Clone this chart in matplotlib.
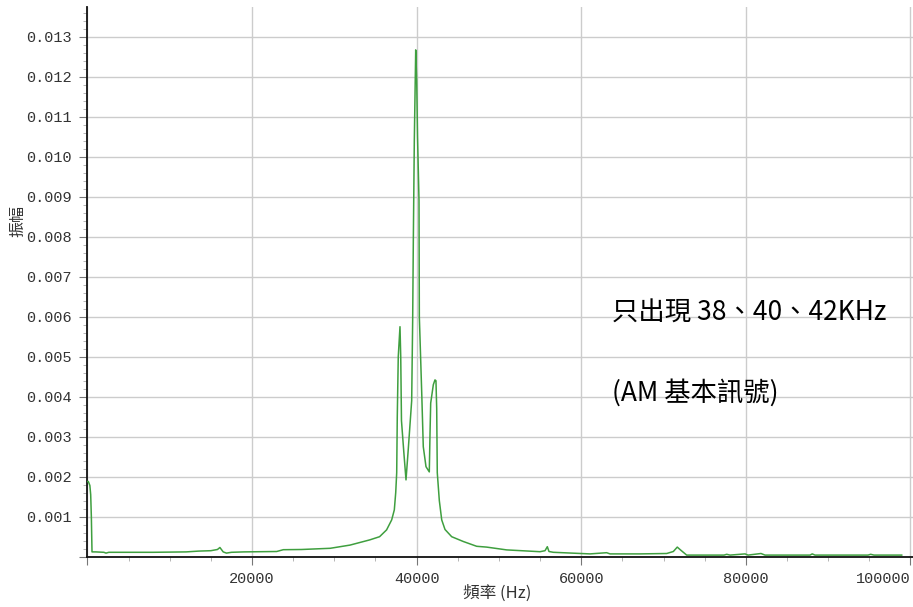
import numpy as np
import matplotlib
matplotlib.use("Agg")
import matplotlib.pyplot as plt
from matplotlib.ticker import MultipleLocator, FixedLocator

# Spectrum samples: frequency (Hz) and amplitude
freq = [0, 110, 300, 400, 480, 560, 1000, 2000, 2260, 2600, 5000, 8000, 12000,
        13500, 15000, 15800, 16100, 16500, 16900, 17500, 19000, 23000, 23800,
        26000, 29500, 31900, 34300, 35500, 36350, 36970, 37290, 37460, 37580,
        37650, 37770, 37980, 38070, 38160, 38450, 38710, 38990, 39400, 39520,
        39600, 39720, 39890, 40010, 40110, 40290, 40330, 40620, 40810, 41140,
        41540, 41630, 41710, 42030, 42230, 42350, 42440, 42510, 42760, 43050,
        43450, 44260, 45670, 47300, 48510, 50940, 54990, 55600, 55880, 56080,
        56610, 61070, 63090, 63500, 67140, 70390, 71190, 71670, 72000, 72810,
        74430, 77350, 77680, 78080, 79900, 80270, 81840, 82330, 87800, 88070,
        88400, 94850, 95170, 95570, 98940]
amp = [0.00188, 0.00188, 0.00178, 0.00155, 0.00100, 0.00012, 0.00012, 0.00011,
       0.00009, 0.00011, 0.00011, 0.00011, 0.00012, 0.00014, 0.00015, 0.00018,
       0.00023, 0.00012, 0.00009, 0.00011, 0.00012, 0.00013, 0.000175, 0.00018,
       0.00021, 0.00029, 0.00042, 0.00050, 0.00067, 0.00092, 0.00117, 0.00160,
       0.00210, 0.00350, 0.00500, 0.00575, 0.00500, 0.00340, 0.00260, 0.00192,
       0.00270, 0.00390, 0.00590, 0.00790, 0.01040, 0.01267, 0.01190, 0.01050,
       0.00890, 0.00600, 0.00410, 0.00275, 0.00225, 0.00212, 0.00310, 0.00384,
       0.00430, 0.00442, 0.00440, 0.00370, 0.00210, 0.00140, 0.00092, 0.00068,
       0.00050, 0.00038, 0.00026, 0.00024, 0.00017, 0.000125, 0.00015, 0.00025,
       0.00013, 0.00011, 0.00007, 0.00010, 0.00007, 0.00007, 0.00008, 0.00013,
       0.00024, 0.00018, 0.00004, 0.00004, 0.00004, 0.00006, 0.00004, 0.00007,
       0.00004, 0.00008, 0.00004, 0.00004, 0.00007, 0.00004, 0.00004, 0.00006,
       0.00004, 0.00004]

x_major = [0, 20000, 40000, 60000, 80000, 100000]
x_labels = ["", "20000", "40000", "60000", "80000", "100000"]
y_major = [i / 1000 for i in range(0, 14)]
y_labels = [""] + ["%.3f" % v for v in y_major[1:]]

note_lines = ["只出現 38、40、42KHz", "(AM 基本訊號)"]
x_title = "頻率 (Hz)"
y_title = "振幅"

W, H = 913, 607
fig = plt.figure(figsize=(W / 100, H / 100), dpi=100)
left, right, top, bottom = 87.4, 913, 7, 556.7
ax = fig.add_axes([left / W, 1 - bottom / H, (right - left) / W, (bottom - top) / H])

ax.plot(freq, amp, color="#3f9f3f", linewidth=1.1, zorder=3)

ax.set_xlim(0, (right - left) * 121.5)
ax.set_ylim(0, (bottom - top) / 40000)

ax.xaxis.set_major_locator(FixedLocator(x_major))
ax.set_xticklabels(x_labels)
ax.xaxis.set_minor_locator(MultipleLocator(5000))
ax.yaxis.set_major_locator(FixedLocator(y_major))
ax.set_yticklabels(y_labels)
ax.yaxis.set_minor_locator(MultipleLocator(0.0002))

ax.grid(True, which="major", color="#cccccc", linewidth=1.0, zorder=0)
for s in ("top", "right"):
    ax.spines[s].set_visible(False)
for s in ("left", "bottom"):
    ax.spines[s].set_color("#111111")
    ax.spines[s].set_linewidth(1.3)

ax.tick_params(axis="both", which="major", length=6, width=0.8, color="#777777",
               labelcolor="#333333", pad=5)
ax.tick_params(axis="both", which="minor", length=3, width=0.6, color="#aaaaaa")
for lab in ax.get_xticklabels() + ax.get_yticklabels():
    lab.set_fontfamily("Liberation Mono")
    lab.set_fontsize(11)
# the last x label sits just inside the right edge
ax.get_xticklabels()[-1].set_horizontalalignment("right")
ax.get_xticklabels()[-1].set_x(99000)

cjk = ["Noto Sans CJK TC", "DejaVu Sans"]
fig.text(497 / W, 1 - 593 / H, x_title, ha="center", va="center",
         family=cjk, fontsize=12, color="#333333")
fig.text(18 / W, 1 - 221 / H, y_title, ha="center", va="center", rotation=90,
         family=cjk, fontsize=11.5, color="#333333")

fig.text(612 / W, 1 - 313 / H, note_lines[0], ha="left", va="center",
         family=cjk, fontsize=19, color="black")
fig.text(612 / W, 1 - 393 / H, note_lines[1], ha="left", va="center",
         family=cjk, fontsize=19, color="black")

fig.savefig("out.png", dpi=100, facecolor="white")
